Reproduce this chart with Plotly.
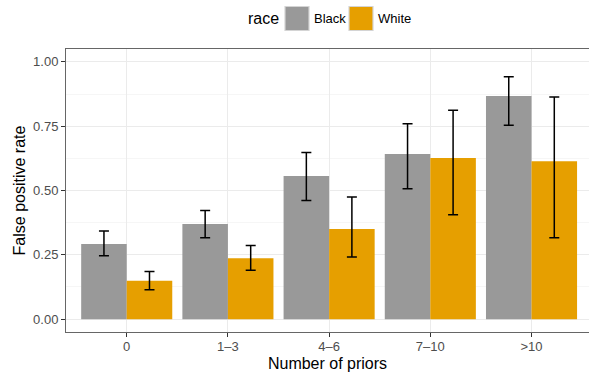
import plotly.graph_objects as go

categories = ["0", "1\u20133", "4\u20136", "7\u201310", ">10"]
black_fpr = [0.292, 0.370, 0.556, 0.642, 0.867]
black_lo = [0.246, 0.316, 0.461, 0.507, 0.754]
black_hi = [0.343, 0.422, 0.648, 0.759, 0.942]
white_fpr = [0.149, 0.237, 0.350, 0.626, 0.614]
white_lo = [0.114, 0.190, 0.242, 0.406, 0.316]
white_hi = [0.185, 0.286, 0.475, 0.812, 0.863]
y_ticks = [0.0, 0.25, 0.5, 0.75, 1.0]
y_ticklabels = ["0.00", "0.25", "0.50", "0.75", "1.00"]
series_names = ["Black", "White"]
series_colors = ["#999999", "#E69F00"]

FONT = "Liberation Sans, Arial, Helvetica, sans-serif"
W, H = 589, 372
ML, MR, MT, MB = 66, 0, 49, 40
PW, PH = W - ML - MR, H - MT - MB

def px_x(px):
    return (px - ML) / PW

def px_y(py):
    return (H - MB - py) / PH

def err(vals, lo, hi):
    return dict(type="data", symmetric=False,
                array=[h - v for v, h in zip(vals, hi)],
                arrayminus=[v - l for v, l in zip(vals, lo)],
                color="black", thickness=1.5, width=5)

fig = go.Figure()
fig.add_trace(go.Bar(x=categories, y=black_fpr, name=series_names[0],
                     marker=dict(color=series_colors[0], line=dict(width=0)),
                     error_y=err(black_fpr, black_lo, black_hi), showlegend=False))
fig.add_trace(go.Bar(x=categories, y=white_fpr, name=series_names[1],
                     marker=dict(color=series_colors[1], line=dict(width=0)),
                     error_y=err(white_fpr, white_lo, white_hi), showlegend=False))

# manual legend (ggplot-style, large keys)
shapes = []
annotations = [dict(text="race", xref="paper", yref="paper", x=px_x(246), y=px_y(19),
                    xanchor="left", yanchor="middle", showarrow=False,
                    font=dict(size=16, color="black", family=FONT))]
key_left = [285, 349]
text_left = [312, 375.5]
for name, col, kx, tx in zip(series_names, series_colors, key_left, text_left):
    shapes.append(dict(type="rect", xref="paper", yref="paper",
                       x0=px_x(kx), x1=px_x(kx + 24), y0=px_y(30.5), y1=px_y(6.5),
                       fillcolor=col, line=dict(color="#d4d4d4", width=1.2)))
    annotations.append(dict(text=name, xref="paper", yref="paper", x=px_x(tx), y=px_y(19),
                            xanchor="left", yanchor="middle", showarrow=False,
                            font=dict(size=13, color="black", family=FONT)))

fig.update_layout(
    width=W, height=H,
    margin=dict(l=ML, r=MR, t=MT, b=MB, autoexpand=False),
    paper_bgcolor="white", plot_bgcolor="white",
    barmode="group", bargap=0.1, bargroupgap=0,
    font=dict(family=FONT, color="black"),
    showlegend=False,
    shapes=shapes, annotations=annotations,
    xaxis=dict(type="category", range=[-0.6, 4.568],
               showgrid=True, gridcolor="#ebebeb", gridwidth=1,
               showline=True, mirror=True, linecolor="#666666", linewidth=1,
               ticks="outside", ticklen=4, tickcolor="#333333", tickwidth=1,
               ticklabelstandoff=-2,
               tickfont=dict(size=13, color="#4d4d4d"),
               title=dict(text="Number of priors", font=dict(size=16, color="black"), standoff=9),
               zeroline=False, fixedrange=True),
    yaxis=dict(range=[-0.05, 1.05], tickvals=y_ticks, ticktext=y_ticklabels,
               showgrid=True, gridcolor="#ebebeb", gridwidth=1,
               minor=dict(dtick=0.125, tick0=0, showgrid=True, gridcolor="#f6f6f6", gridwidth=0.5, ticks=""),
               showline=True, mirror=False, linecolor="#666666", linewidth=1,
               ticks="outside", ticklen=4, tickcolor="#333333", tickwidth=1,
               tickfont=dict(size=13, color="#4d4d4d"),
               title=dict(text="False positive rate", font=dict(size=16, color="black"), standoff=3),
               zeroline=False, fixedrange=True),
)

fig.write_html("out.html")
